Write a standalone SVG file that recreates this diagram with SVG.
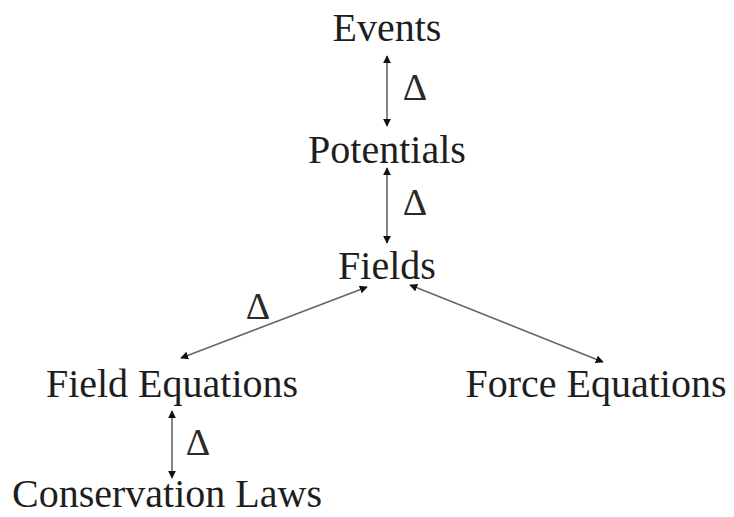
<svg xmlns="http://www.w3.org/2000/svg" width="734" height="517" viewBox="0 0 734 517">
<defs>
<style>
.lbl{font-family:"Liberation Serif","Times New Roman",serif;font-size:40px;fill:#1e1e1e;text-anchor:middle}
.dl{font-family:"Liberation Serif","Times New Roman",serif;font-size:38px;fill:#2a2a2a;text-anchor:middle}
.c{stroke:#666;stroke-width:1.6;fill:none;marker-start:url(#ah);marker-end:url(#ah)}
</style>
<marker id="ah" viewBox="0 0 10 10" refX="9" refY="5" markerWidth="8" markerHeight="8" markerUnits="userSpaceOnUse" orient="auto-start-reverse">
<path d="M0,0 L10,5 L0,10 z" fill="#111"/>
</marker>
</defs>
<rect width="734" height="517" fill="#fff"/>
<g id="connectors">
<line class="c" x1="387" y1="56" x2="387" y2="126"/>
<line class="c" x1="387" y1="168" x2="387" y2="243"/>
<line class="c" x1="367" y1="287" x2="181" y2="358"/>
<line class="c" x1="410" y1="285" x2="603" y2="362"/>
<line class="c" x1="172" y1="411" x2="172" y2="478"/>
</g>
<g id="delta-labels">
<text class="dl" x="415" y="100">Δ</text>
<text class="dl" x="415" y="215">Δ</text>
<text class="dl" x="258" y="319">Δ</text>
<text class="dl" x="198" y="455">Δ</text>
</g>
<g id="events"><text class="lbl" x="387" y="41">Events</text></g>
<g id="potentials"><text class="lbl" x="387" y="163">Potentials</text></g>
<g id="fields"><text class="lbl" x="387" y="279">Fields</text></g>
<g id="field-equations"><text class="lbl" x="172" y="397">Field Equations</text></g>
<g id="force-equations"><text class="lbl" x="596" y="397">Force Equations</text></g>
<g id="conservation-laws"><text class="lbl" x="167" y="507">Conservation Laws</text></g>
</svg>
